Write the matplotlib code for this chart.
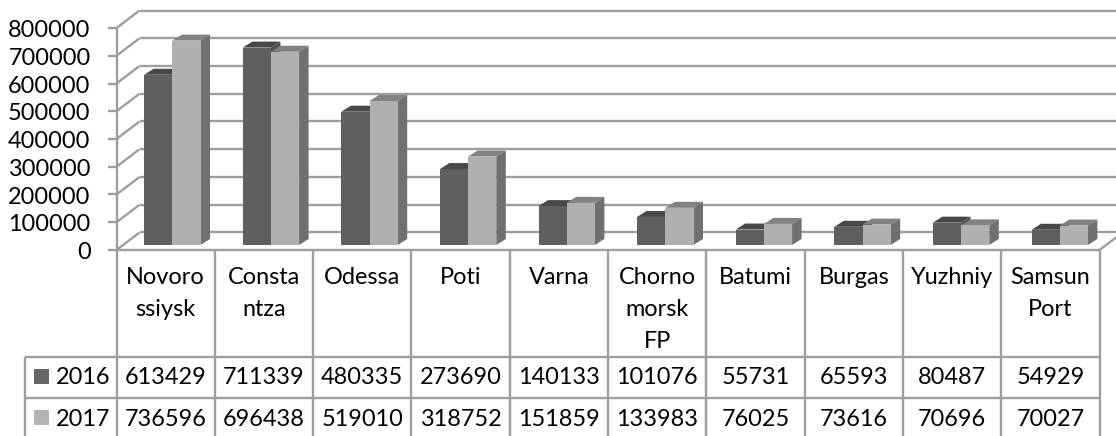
import matplotlib
matplotlib.use("Agg")
import matplotlib.pyplot as plt
from matplotlib.patches import Polygon, Rectangle

categories = ["Novoro\nssiysk", "Consta\nntza", "Odessa", "Poti", "Varna",
              "Chorno\nmorsk\nFP", "Batumi", "Burgas", "Yuzhniy", "Samsun\nPort"]
series_names = ["2016", "2017"]
values_2016 = [613429, 711339, 480335, 273690, 140133, 101076, 55731, 65593, 80487, 54929]
values_2017 = [736596, 696438, 519010, 318752, 151859, 133983, 76025, 73616, 70696, 70027]
y_ticks = [0, 100000, 200000, 300000, 400000, 500000, 600000, 700000, 800000]

W, H = 1116, 436
X0, X1, Y0, Y1 = 116.5, 1099.5, 250.0, 28.0   # front plane, pixels
GRID = "#9e9e9e"
TXT = "#000000"
FS = 16.9
plt.rcParams["font.family"] = ["Lato", "DejaVu Sans"]

fig = plt.figure(figsize=(W / 100, H / 100), dpi=100)
ax = fig.add_axes([X0 / W, 1 - Y0 / H, (X1 - X0) / W, (Y0 - Y1) / H])
ax.set_xlim(0, 10)
ax.set_ylim(0, 800000)
ax.axis("off")

ux = (X1 - X0) / 10          # pixels per category
uy = (Y0 - Y1) / 800000      # pixels per value unit
def dx(p): return p / ux
def dy(p): return p / uy
def py(p): return (Y0 - p) / uy   # image pixel row -> data y
def px(p): return (p - X0) / ux   # image pixel col -> data x

LW = 1.7
def line(xs, ys, z=1, lw=LW, c=GRID):
    ax.plot(xs, ys, color=c, lw=lw, clip_on=False, zorder=z, solid_capstyle="butt")

# 3D walls
back_dx, back_dy = dx(23), dy(17.5)
for v in y_ticks:
    line([px(140), px(W + 5)], [v + back_dy] * 2)
    line([0, back_dx], [v, v + back_dy])
    line([px(108), 0], [v, v])
    ax.text(px(90.5), v - dy(2.5), f"{v}", ha="right", va="center", fontsize=FS,
            color=TXT, clip_on=False)
line([0, 0], [0, 800000])
line([0, 10], [0, 0])
line([10, 10 + dx(23)], [0, back_dy])

# 3D bars
bar_w = 28.2 / ux
bar_pitch = 98.6 / ux
first = px(172.3)
base = dy(5)
depth_x, depth_y = dx(9.5), dy(6)
styles = [("#5f5f5f", "#484848", "#4f4f4f"), ("#b0b0b0", "#828282", "#707070")]
z = 3
for i in range(len(categories)):
    c = first + i * bar_pitch
    for k, vals in enumerate([values_2016, values_2017]):
        front, top, side = styles[k]
        v = vals[i]
        l = c - bar_w if k == 0 else c
        r = l + bar_w
        t = base + v
        ax.add_patch(Polygon([(l, t), (r, t), (r + depth_x, t + depth_y), (l + depth_x, t + depth_y)],
                             fc=top, ec="none", zorder=z, clip_on=False))
        ax.add_patch(Polygon([(r, base), (r + depth_x, base + depth_y), (r + depth_x, t + depth_y), (r, t)],
                             fc=side, ec="none", zorder=z, clip_on=False))
        ax.bar(l, v, width=bar_w, bottom=base, align="edge", color=front, zorder=z + 0.5, clip_on=False)
        z += 1

# data table
R1, R2, R3 = py(356.7), py(398), py(436)
ZT = 60
for i in range(11):
    line([i, i], [0, R3], z=ZT)
line([px(24.7), px(24.7)], [R1, R3], z=ZT)
line([px(24.7), 10], [R1, R1], z=ZT)
line([px(24.7), 10], [R2, R2], z=ZT)

for i, name in enumerate(categories):
    for j, part in enumerate(name.split("\n")):
        ax.text(i + 0.5, py(278 + 32 * j), part, ha="center", va="center",
                fontsize=FS, color=TXT, clip_on=False, zorder=ZT)
rows_y = [378, 419]
for k, vals in enumerate([values_2016, values_2017]):
    ax.add_patch(Rectangle((px(34), py(rows_y[k] + 6.5)), 15 / ux, dy(15),
                           fc="#666666" if k == 0 else "#b3b3b3", ec="none", clip_on=False, zorder=ZT))
    ax.text(px(83), py(rows_y[k]), series_names[k], ha="center", va="center",
            fontsize=FS, color=TXT, clip_on=False, zorder=ZT)
    for i, v in enumerate(vals):
        ax.text(i + 0.5, py(rows_y[k]), str(v), ha="center", va="center",
                fontsize=FS, color=TXT, clip_on=False, zorder=ZT)

fig.savefig("out.png", dpi=100, facecolor="white")
